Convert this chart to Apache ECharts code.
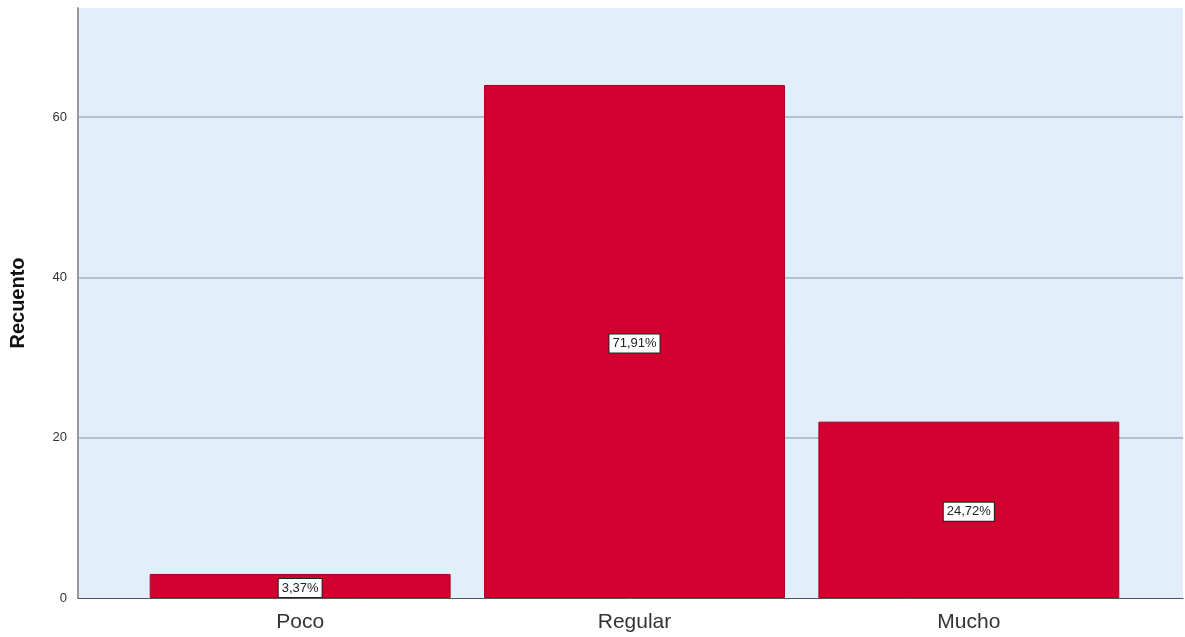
<!DOCTYPE html>
<html><head><meta charset="utf-8">
<script src="https://cdn.jsdelivr.net/npm/echarts@6/dist/echarts.min.js"></script>
<style>html,body{margin:0;padding:0;background:#fff}#c{width:1185px;height:637px}</style>
</head><body><div id="c"></div>
<script>
const categories = ['Poco', 'Regular', 'Mucho'];
const counts = [3, 64, 22];
const percentLabels = ['3,37%', '71,91%', '24,72%'];
const yTicks = [0, 20, 40, 60];
const yMax = 73.6;

const FONT = 'Liberation Sans, Arial, sans-serif';
const chart = echarts.init(document.getElementById('c'));
chart.setOption({
  animation: false,
  grid: [
    {left: 78, right: 2, top: 8, bottom: 39, show: true, backgroundColor: '#e3eefb', borderWidth: 0},
    {left: 133, right: 49, top: 8, bottom: 39}
  ],
  xAxis: [
    {gridIndex: 0, type: 'category', data: [''], axisLine: {show: true, lineStyle: {color: '#555', width: 1}},
     axisTick: {show: false}, axisLabel: {show: false}, splitLine: {show: false}},
    {gridIndex: 1, type: 'category', data: categories, axisLine: {show: false}, axisTick: {show: false},
     axisLabel: {fontSize: 21, color: '#333', margin: 14, fontFamily: FONT}}
  ],
  yAxis: [
    {gridIndex: 0, type: 'value', min: 0, max: yMax, interval: 20,
     name: 'Recuento', nameLocation: 'middle', nameGap: 50,
     nameTextStyle: {fontSize: 20, fontWeight: 'bold', color: '#111', fontFamily: FONT},
     axisLine: {show: true, lineStyle: {color: '#999', width: 2}}, axisTick: {show: false},
     axisLabel: {fontSize: 13, color: '#333', margin: 11, fontFamily: FONT,
       formatter: v => yTicks.includes(v) ? String(v) : ''},
     splitLine: {show: true, lineStyle: {color: ['rgba(0,0,0,0)', '#b5c1ca', '#b5c1ca', '#b5c1ca', 'rgba(0,0,0,0)'], width: 2}}},
    {gridIndex: 1, type: 'value', min: 0, max: yMax, interval: 20, show: false}
  ],
  series: [{
    type: 'bar', xAxisIndex: 1, yAxisIndex: 1, data: counts, barWidth: '90%',
    itemStyle: {color: '#d2002e', borderColor: '#a8001f', borderWidth: 1},
    label: {show: true, position: 'inside', formatter: p => percentLabels[p.dataIndex],
      backgroundColor: '#fff', borderColor: '#222', borderWidth: 1, padding: [3, 3, 2, 3],
      color: '#222', fontSize: 13, fontFamily: FONT, offset: [0, 2]}
  }]
});
</script></body></html>
